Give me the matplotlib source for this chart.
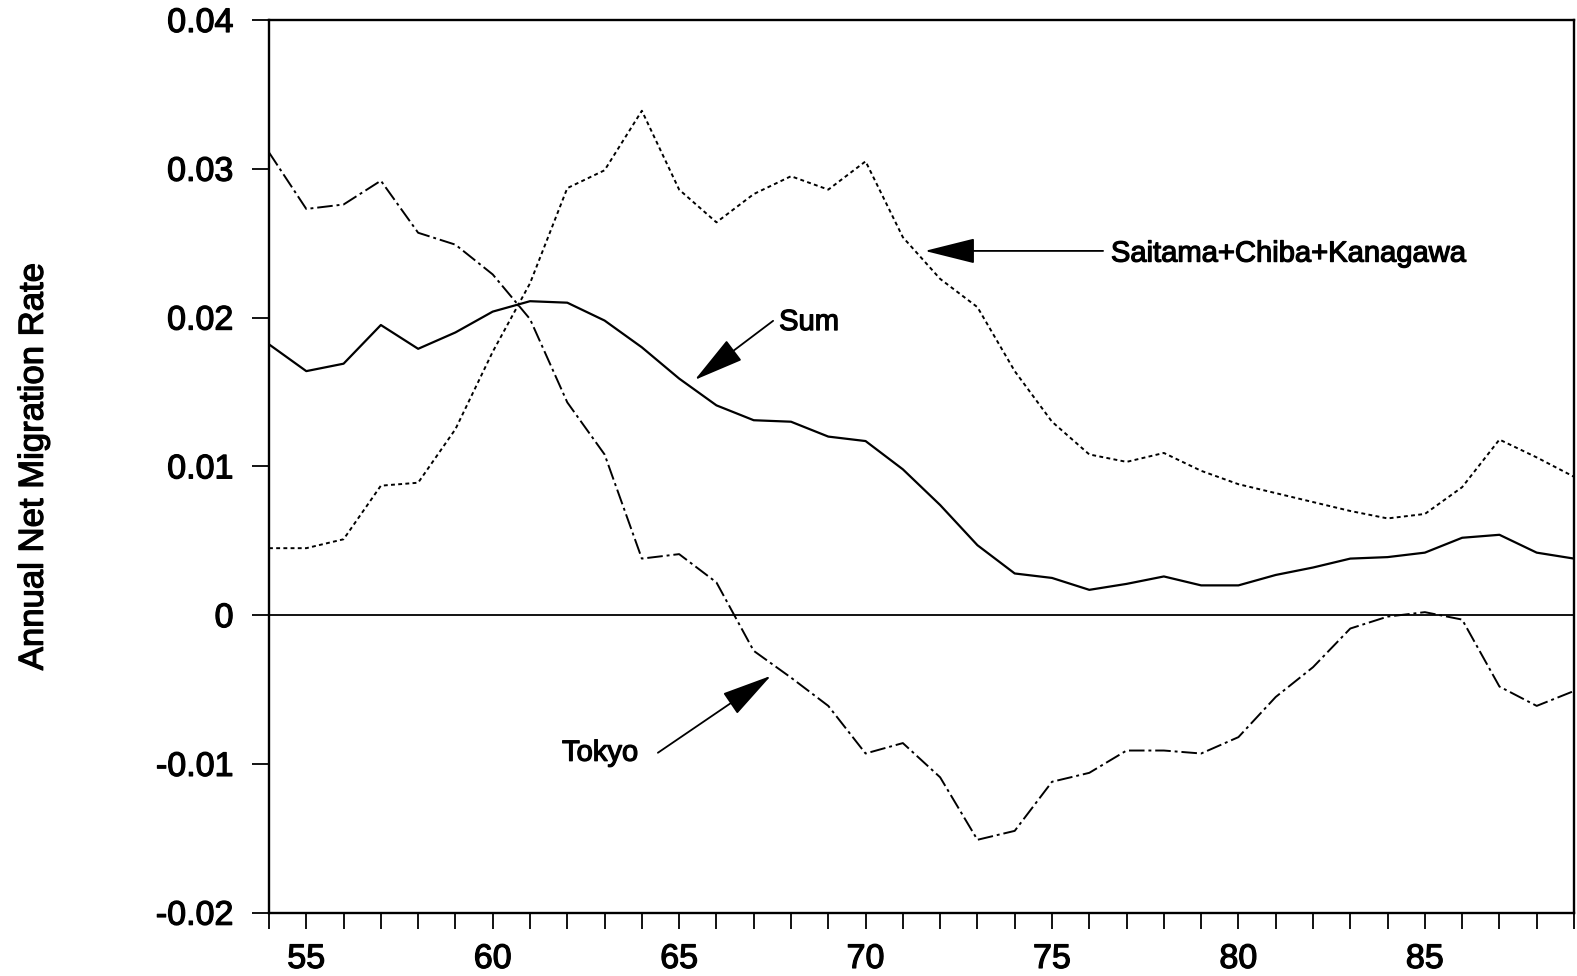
import matplotlib
matplotlib.use("Agg")
import matplotlib.pyplot as plt
import matplotlib.patheffects as pe

years = list(range(54, 90))
tokyo = [0.0311, 0.0273, 0.0276, 0.0292, 0.0257, 0.0249, 0.0229, 0.0199, 0.0143, 0.0108,
         0.0038, 0.0041, 0.0022, -0.0024, -0.0042, -0.0061, -0.0093, -0.0086, -0.0109, -0.0151,
         -0.0145, -0.0112, -0.0106, -0.0091, -0.0091, -0.0093, -0.0082, -0.0055, -0.0035, -0.0009,
         -0.0001, 0.0002, -0.0003, -0.0048, -0.0061, -0.0051]
sum_rate = [0.0182, 0.0164, 0.0169, 0.0195, 0.0179, 0.0190, 0.0204, 0.0211, 0.0210, 0.0198,
            0.0180, 0.0159, 0.0141, 0.0131, 0.0130, 0.0120, 0.0117, 0.0098, 0.0074, 0.0047,
            0.0028, 0.0025, 0.0017, 0.0021, 0.0026, 0.0020, 0.0020, 0.0027, 0.0032, 0.0038,
            0.0039, 0.0042, 0.0052, 0.0054, 0.0042, 0.0038]
suburbs = [0.0045, 0.0045, 0.0051, 0.0087, 0.0089, 0.0125, 0.0177, 0.0223, 0.0287, 0.0299,
           0.0339, 0.0286, 0.0264, 0.0283, 0.0295, 0.0286, 0.0305, 0.0254, 0.0226, 0.0207,
           0.0164, 0.0130, 0.0108, 0.0103, 0.0109, 0.0097, 0.0088, 0.0082, 0.0076, 0.0070,
           0.0065, 0.0068, 0.0086, 0.0118, 0.0106, 0.0093]
x_labels = ["55", "60", "65", "70", "75", "80", "85"]
y_ticks = [-0.02, -0.01, 0.0, 0.01, 0.02, 0.03, 0.04]
y_labels = ["-0.02", "-0.01", "0", "0.01", "0.02", "0.03", "0.04"]

plt.rcParams['font.family'] = ['Liberation Sans', 'DejaVu Sans']
heavy = [pe.withStroke(linewidth=0.9, foreground='black')]

fig = plt.figure(figsize=(15.77, 9.76), dpi=100)
ax = fig.add_axes([269/1577, (976-912.7)/976, (1574-269)/1577, (912.7-20)/976])

ax.plot(years, tokyo, color='black', lw=1.4, dashes=(8, 2, 1.5, 2))
ax.plot(years, sum_rate, color='black', lw=1.6, linestyle='-')
ax.plot(years, suburbs, color='black', lw=1.4, dashes=(2.0, 1.7))
ax.axhline(0, color='black', lw=1.3)

ax.set_xlim(54, 89)
ax.set_ylim(-0.02, 0.04)

ax.set_xticks(years)
ax.set_xticklabels([str(y) if y % 5 == 0 else "" for y in years])
ax.set_yticks(y_ticks)
ax.set_yticklabels(y_labels)
ax.tick_params(axis='x', direction='out', length=11.5, width=1.3, pad=11, labelsize=24.5)
ax.tick_params(axis='y', direction='out', length=12.5, width=1.3, pad=13, labelsize=24.5)
for lbl in ax.get_xticklabels() + ax.get_yticklabels():
    lbl.set_path_effects(heavy)
for sp in ax.spines.values():
    sp.set_linewidth(1.7)

ax.set_ylabel("Annual Net Migration Rate", fontsize=25, labelpad=0, path_effects=heavy)
ax.yaxis.set_label_coords(-0.168, 0.5)

arrow = dict(arrowstyle='-|>,head_length=3.2,head_width=0.8', mutation_scale=10,
             color='black', lw=1.3, shrinkA=0, shrinkB=0)

ax.annotate("", xy=(71.59, 0.02448), xytext=(76.37, 0.02448), arrowprops=arrow)
ax.text(76.58, 0.0243, "Saitama+Chiba+Kanagawa", fontsize=21, ha='left', va='center',
        path_effects=heavy)

ax.annotate("", xy=(65.42, 0.01581), xytext=(67.52, 0.01978), arrowprops=arrow)
ax.text(67.68, 0.0197, "Sum", fontsize=21, ha='left', va='center', path_effects=heavy)

ax.annotate("", xy=(67.46, -0.00408), xytext=(64.43, -0.00925), arrowprops=arrow)
ax.text(63.9, -0.00925, "Tokyo", fontsize=21, ha='right', va='center', path_effects=heavy)

fig.savefig("out.png", dpi=100)
